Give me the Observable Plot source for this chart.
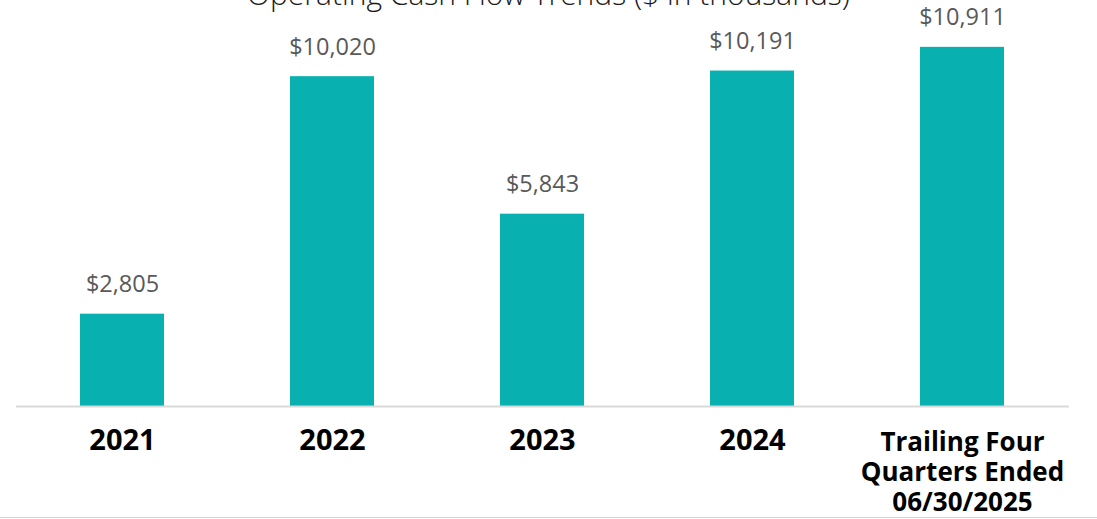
<!DOCTYPE html>
<html>
<head>
<meta charset="utf-8">
<script src="https://cdn.jsdelivr.net/npm/d3@7"></script>
<script src="https://cdn.jsdelivr.net/npm/@observablehq/plot@0.6"></script>
<style>
  html, body { margin: 0; padding: 0; background: #fff; overflow: hidden; }
  #wrap { position: relative; width: 1097px; height: 519px; }
  #title { position: absolute; left: 0; width: 1097px; top: -21px; text-align: center;
           font-family: "Open Sans", sans-serif; font-weight: 300; font-size: 30px; color: #1a1a1a; line-height: 30px; }
  #bottomline { position: absolute; left: 0; top: 517px; width: 1097px; height: 1px; background: #c6dbd6; }
</style>
</head>
<body>
<div id="wrap">
  <div id="chart"></div>
  <div id="title">Operating Cash Flow Trends ($ in thousands)</div>
  <div id="bottomline"></div>
</div>
<script>
const categories = ["2021", "2022", "2023", "2024", "Trailing Four\nQuarters Ended\n06/30/2025"];
const values = [2805, 10020, 5843, 10191, 10911];
const valueLabels = ["$2,805", "$10,020", "$5,843", "$10,191", "$10,911"];

const data = categories.map((c, i) => ({category: c, value: values[i], label: valueLabels[i]}));
const yearTicks = categories.slice(0, 4);
const ttmTicks = categories.slice(4);

const chart = Plot.plot({
  width: 1097,
  height: 517,
  marginLeft: 16,
  marginRight: 28,
  marginTop: 11,
  marginBottom: 111,
  style: {background: "#fff", overflow: "visible"},
  x: {domain: categories, paddingInner: 0.6, paddingOuter: 0.3, label: null},
  y: {domain: [0, 12000], axis: null},
  marks: [
    Plot.barY(data, {x: "category", y: "value", fill: "#08b1b0"}),
    Plot.ruleY([0], {stroke: "#d9d9d9", strokeWidth: 2}),
    Plot.text(data, {x: "category", y: "value", text: "label", dy: -22, fill: "#595959",
      fontSize: 23.5, fontWeight: 400, fontFamily: "'Open Sans', sans-serif", lineAnchor: "bottom"}),
    Plot.axisX({ticks: yearTicks, tickSize: 0, tickPadding: 23, fontSize: 29, fontWeight: 700,
      fontFamily: "'Open Sans', sans-serif", fill: "#000", label: null}),
    Plot.axisX({ticks: ttmTicks, tickSize: 0, tickPadding: 23, fontSize: 26, fontWeight: 700,
      fontFamily: "'Open Sans', sans-serif", fill: "#000", lineHeight: 1.154, label: null})
  ]
});
document.getElementById("chart").appendChild(chart);
</script>
</body>
</html>
